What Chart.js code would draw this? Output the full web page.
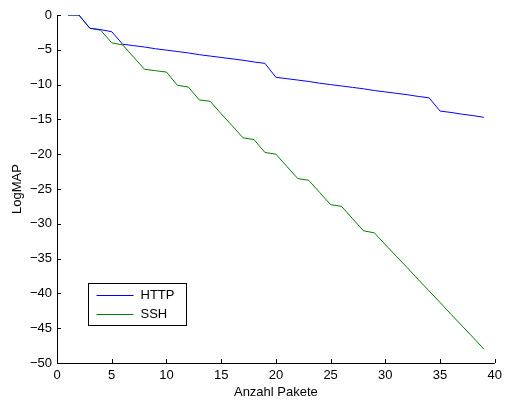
<!DOCTYPE html>
<html>
<head>
<meta charset="utf-8">
<script src="https://cdn.jsdelivr.net/npm/chart.js@4.4.1/dist/chart.umd.min.js"></script>
<style>
  html, body { margin: 0; padding: 0; background: #fff; }
  #wrap { width: 507px; height: 401px; }
</style>
</head>
<body>
<div id="wrap"><canvas id="grafico"></canvas></div>
<script>
        // Anzahl Pakete (x) und LogMAP-Werte
        var pakete = [1, 2, 3, 4, 5, 6, 7, 8, 9, 10, 11, 12, 13, 14, 15, 16, 17, 18, 19, 20,
                      21, 22, 23, 24, 25, 26, 27, 28, 29, 30, 31, 32, 33, 34, 35, 36, 37, 38, 39];
        var http = [0, 0, -1.9, -2.1, -2.4, -4.2, -4.4, -4.6, -4.85, -5.05, -5.25, -5.45, -5.7, -5.9,
                    -6.1, -6.3, -6.5, -6.75, -6.95, -8.95, -9.15, -9.35, -9.55, -9.8, -10.0, -10.2,
                    -10.4, -10.6, -10.85, -11.05, -11.25, -11.45, -11.7, -11.9, -13.8, -14.0, -14.25,
                    -14.45, -14.7];
        var ssh = [0, 0, -1.9, -2.2, -4.0, -4.3, -6.05, -7.8, -8.0, -8.2, -10.1, -10.35, -12.2, -12.4,
                   -14.2, -15.9, -17.65, -17.9, -19.75, -20.0, -21.75, -23.5, -23.75, -25.5, -27.25,
                   -27.5, -29.25, -31.0, -31.3, -33.0, -34.65, -36.3, -38.0, -39.65, -41.3, -43.0,
                   -44.65, -46.3, -48.0];
        var xTicks = [0, 5, 10, 15, 20, 25, 30, 35, 40];
        var yTicks = [-50, -45, -40, -35, -30, -25, -20, -15, -10, -5, 0];

        var schrift = { family: "'Liberation Sans', Arial, sans-serif", size: 13 };

        function punkte(werte) {
            return pakete.map(function (p, i) { return { x: p, y: werte[i] }; });
        }

        // Achsen mit Striche nach innen (wie in MATLAB) und Legende im Diagramm
        var matlabAchsen = {
            id: 'matlabAchsen',
            afterDraw: function (chart) {
                var ctx = chart.ctx;
                var a = chart.chartArea;
                var sx = chart.scales.x, sy = chart.scales.y;
                ctx.save();
                ctx.strokeStyle = '#000';
                ctx.lineWidth = 1;
                ctx.beginPath();
                ctx.moveTo(a.left + 0.5, a.top);
                ctx.lineTo(a.left + 0.5, a.bottom + 0.5);
                ctx.lineTo(a.right, a.bottom + 0.5);
                sx.ticks.forEach(function (t) {
                    var px = Math.round(sx.getPixelForValue(t.value)) + 0.5;
                    ctx.moveTo(px, a.bottom);
                    ctx.lineTo(px, a.bottom - 4);
                });
                sy.ticks.forEach(function (t) {
                    var py = Math.round(sy.getPixelForValue(t.value)) + 0.5;
                    ctx.moveTo(a.left, py);
                    ctx.lineTo(a.left + 4, py);
                });
                ctx.stroke();

                // Legende
                var lx = 88.5, ly = 283.5, lw = 98, lh = 42;
                ctx.fillStyle = '#fff';
                ctx.fillRect(lx, ly, lw, lh);
                ctx.strokeRect(lx, ly, lw, lh);
                ctx.font = '13px ' + schrift.family;
                ctx.textBaseline = 'middle';
                chart.data.datasets.forEach(function (ds, i) {
                    var y = Math.round(ly + 11 + i * 19) + 0.5;
                    ctx.strokeStyle = ds.borderColor;
                    ctx.beginPath();
                    ctx.moveTo(lx + 8, y);
                    ctx.lineTo(lx + 45, y);
                    ctx.stroke();
                    ctx.fillStyle = '#000';
                    ctx.fillText(ds.label, lx + 52, y);
                });
                ctx.restore();
            }
        };

        var configGrafico = {
            type: 'line',
            data: {
                datasets: [{
                    label: 'HTTP',
                    data: punkte(http),
                    borderColor: 'rgb(0, 0, 255)',
                    borderWidth: 1,
                    pointRadius: 0,
                    fill: false,
                    tension: 0
                }, {
                    label: 'SSH',
                    data: punkte(ssh),
                    borderColor: 'rgb(0, 128, 0)',
                    borderWidth: 1,
                    pointRadius: 0,
                    fill: false,
                    tension: 0
                }]
            },
            options: {
                responsive: true,
                maintainAspectRatio: false,
                animation: false,
                layout: { padding: { top: 15, right: 9, left: 0, bottom: 0 } },
                plugins: {
                    legend: { display: false },
                    tooltip: { enabled: false }
                },
                scales: {
                    x: {
                        type: 'linear',
                        min: 0,
                        max: 40,
                        afterFit: function (s) { s.height = 38; },
                        afterBuildTicks: function (s) { s.ticks = xTicks.map(function (v) { return { value: v }; }); },
                        grid: { display: false, drawTicks: false },
                        border: { display: false },
                        ticks: { color: '#000', font: schrift, padding: 5, maxRotation: 0, autoSkip: false },
                        title: {
                            display: true,
                            text: 'Anzahl Pakete',
                            color: '#000',
                            font: schrift,
                            padding: { top: 0, bottom: 1 }
                        }
                    },
                    y: {
                        min: -50,
                        max: 0,
                        afterFit: function (s) { s.width = 57; },
                        afterBuildTicks: function (s) { s.ticks = yTicks.map(function (v) { return { value: v }; }); },
                        grid: { display: false, drawTicks: false },
                        border: { display: false },
                        ticks: {
                            color: '#000',
                            font: schrift,
                            padding: 5,
                            autoSkip: false,
                            callback: function (v) { return String(v).replace('-', '\u2212'); }
                        },
                        title: {
                            display: true,
                            text: 'LogMAP',
                            color: '#000',
                            font: schrift,
                            padding: { top: 10, bottom: 0 }
                        }
                    }
                }
            },
            plugins: [matlabAchsen]
        };

        var grafico = new Chart(document.getElementById('grafico'), configGrafico);
</script>
</body>
</html>
